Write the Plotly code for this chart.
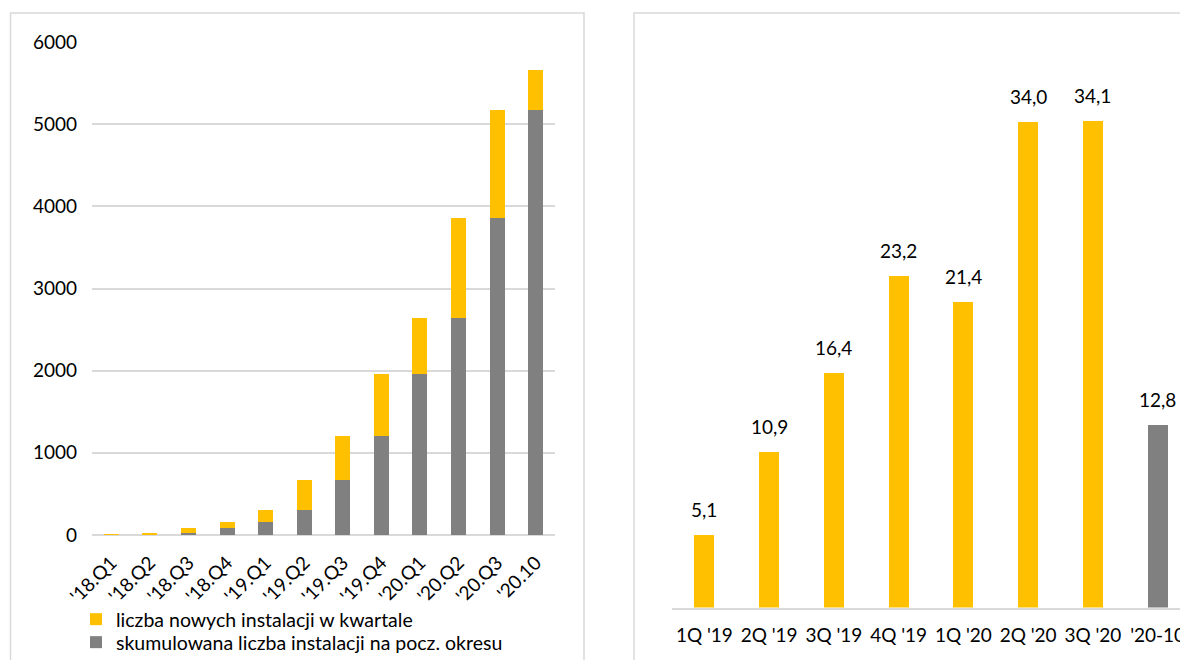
import plotly.graph_objects as go

# ---- left chart data ----
quarters = ["'18.Q1", "'18.Q2", "'18.Q3", "'18.Q4", "'19.Q1", "'19.Q2",
            "'19.Q3", "'19.Q4", "'20.Q1", "'20.Q2", "'20.Q3", "'20.10"]
cumulative_start = [0, 3, 28, 82, 158, 300, 669, 1200, 1958, 2636, 3856, 5170]
new_in_quarter = [3, 25, 54, 76, 142, 369, 531, 758, 678, 1220, 1314, 487]
left_yticks = [0, 1000, 2000, 3000, 4000, 5000, 6000]

# ---- right chart data ----
periods = ["1Q '19", "2Q '19", "3Q '19", "4Q '19", "1Q '20", "2Q '20", "3Q '20", "'20-10"]
period_values = [5.1, 10.9, 16.4, 23.2, 21.4, 34.0, 34.1, 12.8]
period_colors = ["#FFC000"] * 7 + ["#808080"]

W, H = 1188, 660
OFF = 8  # page body margin
FONT = "Lato, Calibri, Carlito, sans-serif"
YELLOW = "#FFC000"
GRAY = "#808080"
GRID = "#D9D9D9"

def px_x(p):
    return (p - OFF) / W

def px_y(p):
    return 1 - (p - OFF) / H

fig = go.Figure()

fig.add_trace(go.Bar(
    x=quarters, y=cumulative_start, name="skumulowana liczba instalacji na pocz. okresu",
    marker=dict(color=GRAY, line=dict(width=0)), xaxis="x", yaxis="y", legend="legend2",
))
fig.add_trace(go.Bar(
    x=quarters, y=new_in_quarter, name="liczba nowych instalacji w kwartale",
    marker=dict(color=YELLOW, line=dict(width=0)), xaxis="x", yaxis="y", legend="legend",
))

fig.add_trace(go.Bar(
    x=periods, y=period_values, marker=dict(color=period_colors, line=dict(width=0)),
    xaxis="x2", yaxis="y2", showlegend=False, width=0.31,
))

labels = [f"{v:.1f}".replace(".", ",") for v in period_values]
annotations = []
for p, v, t in zip(periods, period_values, labels):
    annotations.append(dict(
        x=p, y=v, xref="x2", yref="y2", text=t, showarrow=False,
        yanchor="bottom", yshift=12, font=dict(family=FONT, size=19, color="#000000"),
    ))

shapes = [
    dict(type="rect", xref="paper", yref="paper",
         x0=px_x(10.5), x1=px_x(584), y0=px_y(720), y1=px_y(13),
         line=dict(color=GRID, width=1.5), fillcolor="rgba(0,0,0,0)", layer="below"),
    dict(type="rect", xref="paper", yref="paper",
         x0=px_x(634), x1=px_x(1240), y0=px_y(720), y1=px_y(13),
         line=dict(color=GRID, width=1.5), fillcolor="rgba(0,0,0,0)", layer="below"),
]

legend_style = dict(xanchor="left", yanchor="top", traceorder="normal",
                    font=dict(family=FONT, size=19.5, color="#000000"),
                    tracegroupgap=0, itemwidth=30, bgcolor="rgba(0,0,0,0)")

fig.update_layout(
    width=W, height=H,
    margin=dict(l=0, r=0, t=0, b=0, autoexpand=False),
    paper_bgcolor="white", plot_bgcolor="white",
    barmode="stack", bargap=0.61,
    font=dict(family=FONT, size=19, color="#000000"),
    showlegend=True,
    legend=dict(x=px_x(76), y=px_y(600), **legend_style),
    legend2=dict(x=px_x(76), y=px_y(623), **legend_style),
    xaxis=dict(domain=[px_x(92), px_x(555)], tickangle=-45, showgrid=False,
               showline=False, ticks="", automargin=False, ticklabelstandoff=12,
               tickfont=dict(family=FONT, size=19)),
    yaxis=dict(domain=[px_y(535), px_y(42)], range=[0, 6000], tickvals=left_yticks,
               showgrid=True, gridcolor=GRID, gridwidth=1.5, zeroline=True,
               zerolinecolor=GRID, zerolinewidth=1.5, ticks="", ticklabelstandoff=14,
               automargin=False, tickfont=dict(family=FONT, size=19), anchor="x"),
    xaxis2=dict(domain=[px_x(672), px_x(1190)], anchor="y2", showgrid=False, showline=True,
                linecolor=GRID, linewidth=2, ticks="", automargin=False,
                ticklabelstandoff=10, tickfont=dict(family=FONT, size=19)),
    yaxis2=dict(domain=[px_y(607.5), px_y(36.7)], range=[0, 40], anchor="x2",
                visible=False, showgrid=False, zeroline=False, automargin=False),
    annotations=annotations,
    shapes=shapes,
)

fig.write_html("out.html")
